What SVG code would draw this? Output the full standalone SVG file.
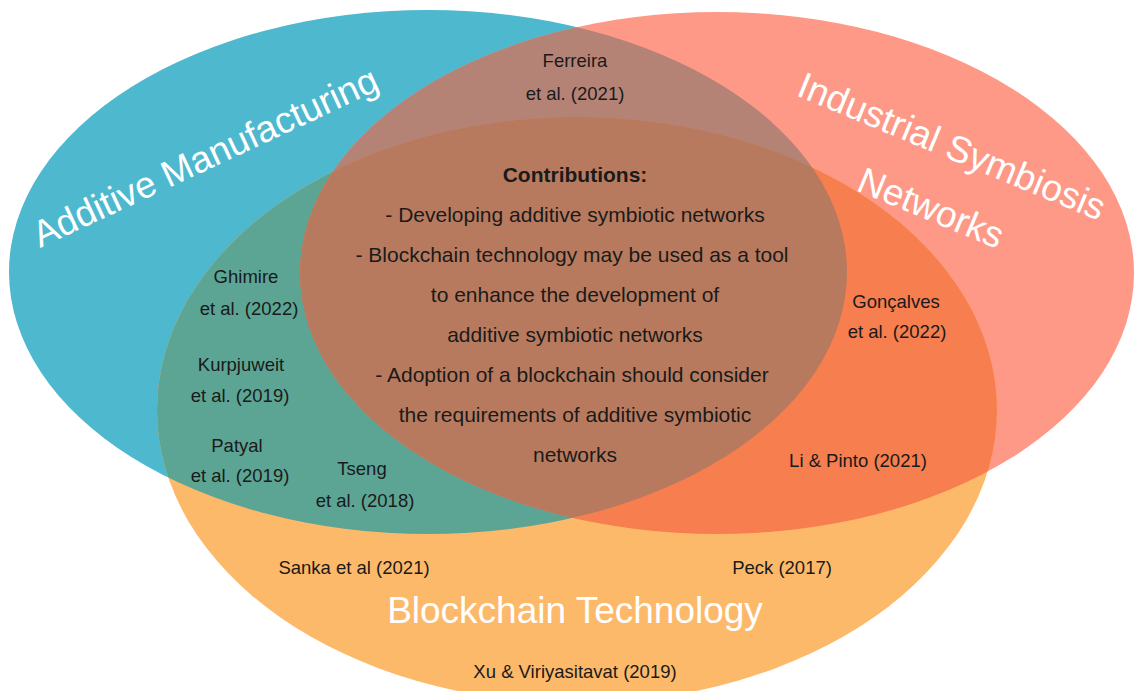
<svg xmlns="http://www.w3.org/2000/svg" width="1134" height="691" viewBox="0 0 1134 691">
<style>
.t{font-family:"Liberation Sans",Arial,sans-serif;fill:#1a1a1a;font-size:18.5px;text-anchor:middle}
.c{font-family:"Liberation Sans",Arial,sans-serif;fill:#1a1a1a;font-size:21px;text-anchor:middle}
.h{font-family:"Liberation Sans",Arial,sans-serif;fill:#ffffff;font-size:37px}
</style>
<defs>
<ellipse id="eB" cx="428" cy="272" rx="419" ry="262"/>
<ellipse id="eR" cx="717" cy="273" rx="417" ry="261"/>
<ellipse id="eO" cx="577" cy="410" rx="420" ry="293"/>
<clipPath id="cB"><use href="#eB"/></clipPath>
<clipPath id="cR"><use href="#eR"/></clipPath>
</defs>
<rect width="1134" height="691" fill="#ffffff"/>
<g id="additive-manufacturing"><use href="#eB" fill="#4DB8CE"/></g>
<g id="industrial-symbiosis"><use href="#eR" fill="#FE9988"/></g>
<g id="blockchain"><use href="#eO" fill="#FDB96A"/></g>
<g id="overlaps">
<g clip-path="url(#cB)"><use href="#eR" fill="#B58376"/></g>
<g clip-path="url(#cB)"><use href="#eO" fill="#5CA594"/></g>
<g clip-path="url(#cR)"><use href="#eO" fill="#F67E4F"/></g>
<g clip-path="url(#cB)"><g clip-path="url(#cR)"><use href="#eO" fill="#B77A5E"/></g></g>
</g>
<g id="titles">
<text class="h" transform="translate(40 248) rotate(-25)">Additive Manufacturing</text>
<text class="h" transform="translate(795 95) rotate(22.5)">Industrial Symbiosis</text>
<text class="h" transform="translate(855 190) rotate(22.5)">Networks</text>
<text class="h" x="575" y="623" text-anchor="middle">Blockchain Technology</text>
</g>
<g id="contributions">
<text class="c" x="575" y="182" font-weight="bold">Contributions:</text>
<text class="c" x="575" y="222">- Developing additive symbiotic networks</text>
<text class="c" x="572" y="262">- Blockchain technology may be used as a tool</text>
<text class="c" x="575" y="302">to enhance the development of</text>
<text class="c" x="575" y="342">additive symbiotic networks</text>
<text class="c" x="572" y="382">- Adoption of a blockchain should consider</text>
<text class="c" x="575" y="422">the requirements of additive symbiotic</text>
<text class="c" x="575" y="462">networks</text>
</g>
<g id="citations">
<text class="t" x="575" y="67">Ferreira</text>
<text class="t" x="575" y="100">et al. (2021)</text>
<text class="t" x="246" y="283">Ghimire</text>
<text class="t" x="249" y="315">et al. (2022)</text>
<text class="t" x="241" y="371">Kurpjuweit</text>
<text class="t" x="240" y="402">et al. (2019)</text>
<text class="t" x="237" y="452">Patyal</text>
<text class="t" x="240" y="482">et al. (2019)</text>
<text class="t" x="362" y="475">Tseng</text>
<text class="t" x="365" y="507">et al. (2018)</text>
<text class="t" x="896" y="308">Gonçalves</text>
<text class="t" x="897" y="338">et al. (2022)</text>
<text class="t" x="858" y="467">Li &amp; Pinto (2021)</text>
<text class="t" x="354" y="574">Sanka et al (2021)</text>
<text class="t" x="782" y="574">Peck (2017)</text>
<text class="t" x="575" y="678">Xu &amp; Viriyasitavat (2019)</text>
</g>
</svg>
